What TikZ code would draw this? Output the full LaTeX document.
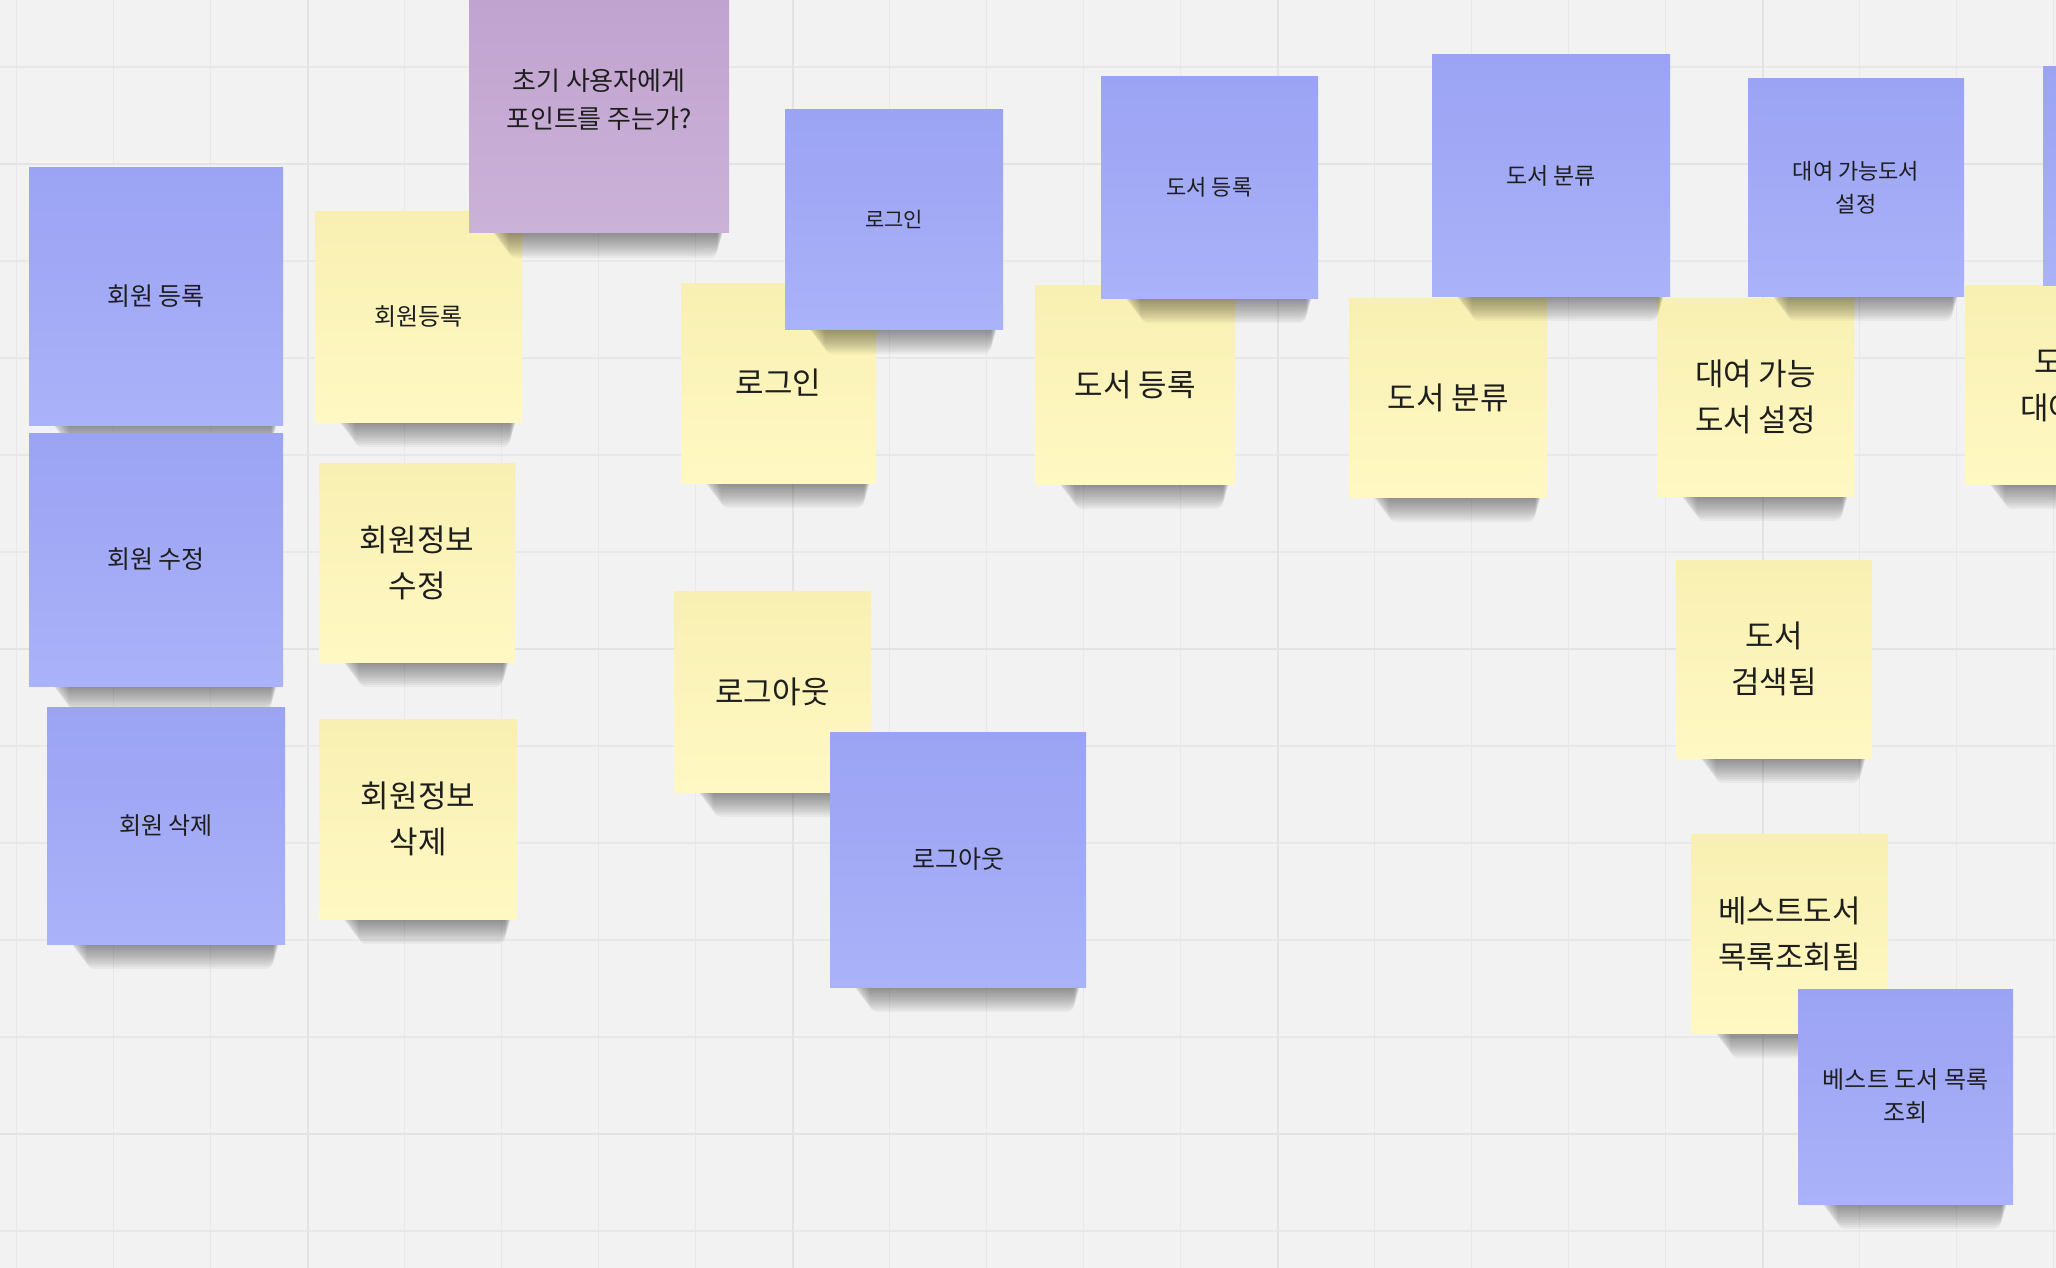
\documentclass[tikz,border=0pt]{standalone}
\usepackage{fontspec}
\setmainfont{Noto Sans CJK KR}
\definecolor{bg}{HTML}{F2F2F2}
\definecolor{gridminor}{HTML}{E8E8E8}
\definecolor{gridmajor}{HTML}{E3E3E3}
\definecolor{bluetop}{HTML}{9BA3F4}
\definecolor{bluebot}{HTML}{AAB2F9}
\definecolor{yeltop}{HTML}{F8F0B2}
\definecolor{yelbot}{HTML}{FFF8C3}
\definecolor{purtop}{HTML}{BFA1CE}
\definecolor{purbot}{HTML}{CBB2D8}
\definecolor{ink}{HTML}{1E1E1E}
\tikzset{
  notebase/.style={rectangle, inner sep=0pt, align=center, text=ink},
  bluenote/.style={notebase, top color=bluetop, bottom color=bluebot},
  yelnote/.style={notebase, top color=yeltop, bottom color=yelbot},
  purnote/.style={notebase, top color=purtop, bottom color=purbot},
  smalltxt/.style={font=\fontsize{#1}{33}\selectfont},
  bigtxt/.style={font=\fontsize{31}{46}\selectfont},
}
% \stickynote{name}{x1}{y1}{x2}{y2}{style}{text}
\newcommand\stickynote[7]{%
  \foreach \i in {0,...,11}{%
    \fill[black,opacity=0.04,rounded corners=8pt]
      ({#2+22+\i*1.6},{#5-8}) rectangle ({#4-5-\i*0.6},{#5+2+\i*2.1});
  }
  \node[#6, minimum width={#4-#2}, minimum height={#5-#3}] (#1)
    at ({(#2+#4)/2},{(#3+#5)/2}) {#7};
}
\begin{document}
\begin{tikzpicture}[x=1pt,y=-1pt]
\useasboundingbox (0,0) rectangle (2056,1268);
\clip (0,0) rectangle (2056,1268);
\fill[bg] (0,0) rectangle (2056,1268);
% grid
\foreach \k in {0,...,21}{
  \draw[gridminor,line width=1.6pt] ({16.5+97*\k},0) -- ({16.5+97*\k},1268);
}
\foreach \k in {0,...,13}{
  \draw[gridminor,line width=1.6pt] (0,{-30+97*\k}) -- (2056,{-30+97*\k});
}
\foreach \k in {0,...,3}{
  \draw[gridmajor,line width=2pt] ({307.5+485*\k},0) -- ({307.5+485*\k},1268);
}
\foreach \k in {0,...,2}{
  \draw[gridmajor,line width=2pt] (0,{164+485*\k}) -- (2056,{164+485*\k});
}
% yellow notes
\stickynote{y1}{315}{212}{522}{422}{yelnote,smalltxt=24}{회원등록}
\stickynote{y2}{319}{463}{515}{662}{yelnote,bigtxt}{회원정보\\수정}
\stickynote{y3}{319}{719}{517}{919}{yelnote,bigtxt}{회원정보\\삭제}
\stickynote{y4}{681}{283}{876}{483}{yelnote,bigtxt}{로그인}
\stickynote{y5}{674}{591}{871}{792}{yelnote,bigtxt}{로그아웃}
\stickynote{y6}{1035}{285}{1235}{484}{yelnote,bigtxt}{도서 등록}
\stickynote{y7}{1349}{298}{1547}{497}{yelnote,bigtxt}{도서 분류}
\stickynote{y8}{1657}{298}{1854}{496}{yelnote,bigtxt}{대여 가능\\도서 설정}
\stickynote{y9}{1965}{285}{2161}{484}{yelnote,bigtxt}{도서\\대여됨}
\stickynote{y10}{1676}{560}{1872}{758}{yelnote,bigtxt}{도서\\검색됨}
\stickynote{y11}{1691}{834}{1888}{1033}{yelnote,bigtxt}{베스트도서\\목록조회됨}
% blue notes
\stickynote{b1}{29}{168}{283}{425}{bluenote,smalltxt=25}{회원 등록}
\stickynote{b2}{29}{433}{283}{686}{bluenote,smalltxt=25}{회원 수정}
\stickynote{b3}{47}{707}{285}{944}{bluenote,smalltxt=24}{회원 삭제}
\stickynote{b4}{785}{110}{1003}{329}{bluenote,smalltxt=21}{로그인}
\stickynote{b5}{830}{732}{1086}{987}{bluenote,smalltxt=25}{로그아웃}
\stickynote{b6}{1101}{77}{1318}{298}{bluenote,smalltxt=22}{도서 등록}
\stickynote{b7}{1432}{55}{1670}{296}{bluenote,smalltxt=23}{도서 분류}
\stickynote{b8}{1748}{79}{1964}{296}{bluenote,smalltxt=22}{대여 가능도서\\설정}
\stickynote{b9}{2043}{67}{2260}{285}{bluenote}{}
\stickynote{b10}{1798}{989}{2013}{1204}{bluenote,smalltxt=24}{베스트 도서 목록\\조회}
% purple note
\stickynote{p1}{469}{-33}{729}{233}{purnote,font=\fontsize{26}{38}\selectfont}{초기 사용자에게\\포인트를 주는가?}
\end{tikzpicture}
\end{document}
